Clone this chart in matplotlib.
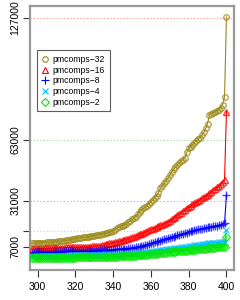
import numpy as np
import matplotlib
matplotlib.use('Agg')
import matplotlib.pyplot as plt

plt.rcParams['font.family'] = ['Liberation Sans', 'DejaVu Sans']

# x positions (one point per size)
x = list(range(297, 401))

# values in thousands
pm32 = [8.8, 8.9, 8.9, 9.0, 9.0, 9.1, 9.1, 9.2, 9.3, 9.3, 9.4, 9.5, 9.6, 9.7,
        9.8, 9.9, 10.0, 10.2, 10.3, 10.4, 10.6, 10.8, 11.0, 11.2,
        11.4, 11.6, 11.7, 11.9, 12.0, 12.1, 12.3, 12.4, 12.6, 12.8,
        13.0, 13.2, 13.4, 13.6, 13.8, 14.0, 14.3, 14.6, 14.9, 15.3,
        16.0, 16.7, 17.3, 17.6, 17.9, 18.3, 19.0, 19.8, 20.6, 21.3,
        22.0, 22.8, 23.9, 25.0, 26.2, 27.1, 27.8, 28.6, 29.5, 30.6,
        31.4, 32.4, 33.6, 35.4, 37.6, 39.0, 40.3, 41.5, 43.0, 44.6,
        46.2, 47.5, 48.8, 49.8, 50.8, 51.7, 52.5, 53.6, 56.5, 58.5,
        59.5, 60.5, 61.5, 62.5, 63.3, 64.2, 65.5, 67.0, 69.0, 71.5,
        76.0, 76.8, 77.3, 77.8, 78.3, 78.8, 79.8, 81.5, 85.6, 127.3]
pm16 = [5.7, 5.8, 5.8, 5.9, 5.9, 6.0, 6.0, 6.1, 6.1, 6.2, 6.2, 6.3, 6.3, 6.4,
        6.4, 6.5, 6.5, 6.5, 6.6, 6.6, 6.6, 6.7, 6.7, 6.7,
        6.8, 6.8, 6.9, 6.9, 7.0, 7.0, 7.1, 7.1, 7.2, 7.3,
        7.4, 7.4, 7.5, 7.7, 7.9, 8.2, 8.5, 8.8, 9.0, 9.2,
        9.4, 9.6, 9.8, 10.0, 10.3, 10.6, 10.9, 11.2, 11.5, 11.9,
        12.3, 12.7, 13.1, 13.5, 13.9, 14.3, 14.8, 15.2, 15.6, 16.1,
        16.5, 16.9, 17.3, 17.8, 18.2, 18.6, 19.0, 19.5, 20.0, 20.6,
        21.3, 22.0, 22.7, 23.5, 24.2, 24.9, 25.6, 26.3, 27.2, 28.0,
        28.6, 29.2, 29.8, 30.4, 31.0, 31.6, 32.3, 32.9, 33.6, 34.3,
        35.0, 35.8, 36.6, 37.4, 38.2, 39.0, 40.0, 41.0, 42.0, 77.8]
pm8 = [3.9, 3.9, 4.0, 4.0, 4.0, 4.1, 4.1, 4.1, 4.2, 4.2, 4.2, 4.3, 4.3, 4.3,
       4.4, 4.4, 4.4, 4.5, 4.5, 4.5, 4.6, 4.6, 4.6, 4.7,
       4.7, 4.7, 4.7, 4.8, 4.8, 4.8, 4.9, 4.9, 4.9, 5.0,
       5.0, 5.0, 5.1, 5.1, 5.2, 5.2, 5.3, 5.3, 5.4, 5.5,
       5.6, 5.7, 5.8, 5.8, 5.9, 6.0, 6.0, 6.1, 6.2, 6.3,
       6.5, 6.7, 6.9, 7.1, 7.3, 7.6, 7.9, 8.1, 8.4, 8.7,
       9.0, 9.3, 9.6, 9.9, 10.2, 10.5, 10.8, 11.1, 11.4, 11.7,
       12.0, 12.3, 12.6, 12.9, 13.2, 13.5, 13.8, 14.1, 14.4, 14.7,
       15.0, 15.3, 15.6, 15.9, 16.1, 16.3, 16.5, 16.7, 16.9, 17.1,
       17.3, 17.5, 17.7, 17.9, 18.1, 18.3, 18.6, 18.9, 19.3, 34.0]
pm4 = [2.0, 2.0, 2.0, 2.05, 2.05, 2.1, 2.1, 2.1, 2.15, 2.15, 2.2, 2.2, 2.2, 2.25,
       2.25, 2.3, 2.3, 2.3, 2.35, 2.35, 2.35, 2.4, 2.4, 2.4,
       2.45, 2.45, 2.45, 2.5, 2.5, 2.5, 2.5, 2.55, 2.55, 2.55,
       2.6, 2.6, 2.6, 2.6, 2.65, 2.65, 2.65, 2.7, 2.7, 2.7,
       2.75, 2.8, 2.85, 2.9, 2.95, 3.0, 3.05, 3.1, 3.2, 3.3,
       3.4, 3.5, 3.6, 3.7, 3.8, 3.9, 4.0, 4.1, 4.25, 4.4,
       4.55, 4.7, 4.85, 5.0, 5.15, 5.3, 5.45, 5.6, 5.75, 5.9,
       6.0, 6.1, 6.2, 6.3, 6.45, 6.6, 6.75, 6.9, 7.05, 7.2,
       7.35, 7.5, 7.65, 7.8, 7.95, 8.1, 8.25, 8.4, 8.55, 8.7,
       8.8, 8.9, 9.0, 9.1, 9.2, 9.3, 9.4, 9.5, 9.65, 15.8]
pm2 = [0.9, 0.9, 0.95, 0.95, 1.0, 1.0, 1.0, 1.05, 1.05, 1.1, 1.1, 1.1, 1.15, 1.15,
       1.2, 1.2, 1.2, 1.25, 1.25, 1.3, 1.3, 1.3, 1.35, 1.35,
       1.4, 1.4, 1.4, 1.45, 1.45, 1.5, 1.5, 1.5, 1.55, 1.55,
       1.6, 1.6, 1.65, 1.65, 1.7, 1.7, 1.75, 1.75, 1.8, 1.8,
       1.85, 1.85, 1.9, 1.9, 1.95, 1.95, 2.0, 2.0, 2.05, 2.1,
       2.2, 2.3, 2.4, 2.5, 2.6, 2.7, 2.8, 2.9, 3.0, 3.1,
       3.2, 3.3, 3.4, 3.5, 3.6, 3.7, 3.8, 3.9, 4.0, 4.1,
       4.2, 4.3, 4.4, 4.5, 4.6, 4.7, 4.8, 4.9, 5.0, 5.1,
       5.2, 5.3, 5.4, 5.5, 5.6, 5.7, 5.8, 5.9, 6.0, 6.1,
       6.2, 6.3, 6.4, 6.5, 6.6, 6.7, 6.8, 6.9, 7.0, 12.3]

labels = ['pmcomps\u221232', 'pmcomps\u221216', 'pmcomps\u22128', 'pmcomps\u22124', 'pmcomps\u22122']
yticks = [7000, 15000, 31000, 63000, 127000]
yticklabels = ['7000', '', '31000', '63000', '127000']
xticks = [300, 320, 340, 360, 380, 400]

series = [pm32, pm16, pm8, pm4, pm2]
colors = ['#9c8a1a', '#ff0000', '#0000ff', '#00c0ff', '#00e600']
markers = ['o', '^', '+', 'x', 'D']
msizes = [4, 4.2, 6, 4.5, 3.6]
refcolors = ['#ff9090', '#90e090', '#a0a0ff', '#80e8f0', '#ff90ff']

fig = plt.figure(figsize=(2.4, 3.0), dpi=100)
ax = fig.add_axes([0.125, 0.1, 0.85, 0.88])

for t, c in zip(yticks[::-1], refcolors):
    ax.axhline(t, color=c, ls=(0, (1, 2)), lw=0.8, zorder=1)

handles = []
for s, c, m, ms, lab in zip(series, colors, markers, msizes, labels):
    y = np.array(s) * 1000
    ax.plot(x, y, '-', color=c, lw=0.8, zorder=2)
    ax.plot(x, y, ls='none', marker=m, ms=ms, mfc='none', mec=c, mew=1.0,
            alpha=0.75, zorder=3)
    handles.append(ax.plot([], [], ls='none', marker=m, ms=ms, mfc='none',
                           mec=c, mew=0.8)[0])

ax.set_xlim(296, 404)
ax.set_ylim(-5200, 133150)
ax.set_xticks(xticks)
ax.set_yticks(yticks)
ax.set_yticklabels(yticklabels, rotation=90, va='center')
ax.tick_params(axis='both', labelsize=7.5, length=5, width=0.8, color='#333333')
ax.tick_params(axis='y', pad=2)
ax.tick_params(axis='x', pad=4)
for sp in ax.spines.values():
    sp.set_color('#999999')
    sp.set_linewidth(1.6)

leg = ax.legend(handles, labels, loc='upper left', bbox_to_anchor=(0.034, 0.833),
                fontsize=6.2, frameon=True, fancybox=False, edgecolor='#333333',
                handlelength=0.8, handletextpad=0.5, borderpad=0.55,
                labelspacing=0.2, borderaxespad=0)
leg.get_frame().set_linewidth(0.8)

fig.savefig('out.png', dpi=100)
